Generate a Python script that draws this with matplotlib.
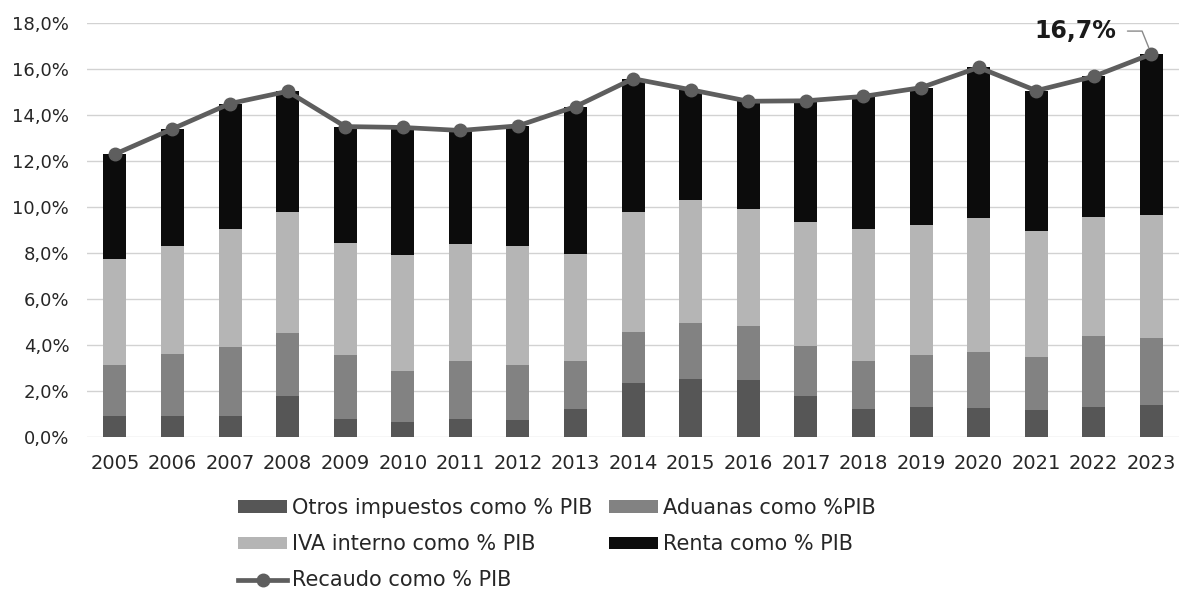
import matplotlib.pyplot as plt
import numpy as np

years = ['2005', '2006', '2007', '2008', '2009', '2010', '2011', '2012', '2013', '2014',
         '2015', '2016', '2017', '2018', '2019', '2020', '2021', '2022', '2023']

otros = [0.93, 0.93, 0.93, 1.77, 0.78, 0.64, 0.81, 0.75, 1.24, 2.37,
         2.53, 2.49, 1.80, 1.24, 1.30, 1.27, 1.19, 1.30, 1.39]
aduanas = [2.20, 2.69, 2.98, 2.75, 2.79, 2.23, 2.49, 2.38, 2.09, 2.18,
           2.45, 2.35, 2.17, 2.06, 2.27, 2.45, 2.31, 3.10, 2.90]
iva = [4.61, 4.70, 5.13, 5.28, 4.86, 5.04, 5.09, 5.16, 4.64, 5.23,
       5.32, 5.06, 5.36, 5.74, 5.65, 5.80, 5.44, 5.15, 5.38]
renta = [4.56, 5.08, 5.46, 5.23, 5.07, 5.55, 4.94, 5.24, 6.40, 5.80,
         4.80, 4.70, 5.29, 5.77, 5.97, 6.55, 6.12, 6.13, 6.98]
recaudo = [12.3, 13.4, 14.5, 15.03, 13.5, 13.46, 13.33, 13.53, 14.37, 15.58,
           15.1, 14.6, 14.62, 14.81, 15.19, 16.07, 15.06, 15.68, 16.65]

x = np.arange(len(years))
w = 0.4

fig = plt.figure(figsize=(11.79, 5.98), dpi=100)
ax = fig.add_axes([0.074, 0.269, 0.926, 0.6925])

b0 = np.zeros(len(years))
h1 = ax.bar(x, otros, w, bottom=b0, color='#565656', zorder=2)
b0 = b0 + np.array(otros)
h2 = ax.bar(x, aduanas, w, bottom=b0, color='#828282', zorder=2)
b0 = b0 + np.array(aduanas)
h3 = ax.bar(x, iva, w, bottom=b0, color='#b5b5b5', zorder=2)
b0 = b0 + np.array(iva)
h4 = ax.bar(x, renta, w, bottom=b0, color='#0c0c0c', zorder=2)

h5, = ax.plot(x, recaudo, color='#5e5e5e', lw=3.4, marker='o', ms=9, zorder=3)

# label on the last point
ax.annotate('16,7%', xy=(x[-1], recaudo[-1]), xytext=(-35, 23), textcoords='offset pixels',
            ha='right', va='center', fontsize=17, fontweight='bold', color='#1a1a1a',
            arrowprops=dict(arrowstyle='-', color='#8a8a8a', lw=1,
                            connectionstyle='angle,angleA=0,angleB=112,rad=0',
                            shrinkA=6, shrinkB=5))

ax.set_xlim(-0.48, len(years) - 0.52)
ax.set_ylim(0, 18)
ax.set_yticks(np.arange(0, 18.1, 2))
ax.set_yticklabels([('%.1f%%' % v).replace('.', ',') for v in np.arange(0, 18.1, 2)])
ax.set_xticks(x)
ax.set_xticklabels(years)
ax.tick_params(axis='y', length=0, pad=13, labelsize=13, labelcolor='#262626')
ax.tick_params(axis='x', length=0, pad=12, labelsize=14, labelcolor='#262626')
ax.grid(axis='y', color='#d2d2d2', lw=1, zorder=0)
for s in ax.spines.values():
    s.set_visible(False)

handles = [h1, h3, h5, h2, h4]
labels = ['Otros impuestos como % PIB', 'IVA interno como % PIB', 'Recaudo como % PIB',
          'Aduanas como %PIB', 'Renta como % PIB']
fig.legend(handles, labels, ncol=2, loc='upper left', bbox_to_anchor=(238 / 1179, 1 - 498 / 598),
           frameon=False, fontsize=15, borderpad=0, borderaxespad=0, handlelength=2.36,
           handleheight=0.55, handletextpad=0.25, columnspacing=0.75, labelspacing=0.78,
           labelcolor='#262626')

plt.savefig('out.png', dpi=100)
